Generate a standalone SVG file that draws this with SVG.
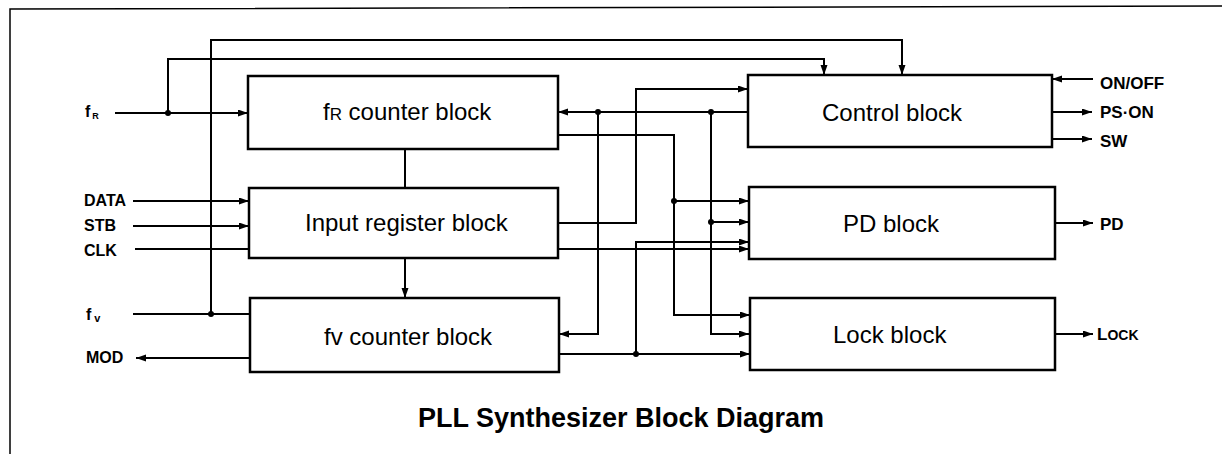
<svg xmlns="http://www.w3.org/2000/svg" width="1222" height="454" viewBox="0 0 1222 454">
<defs>
<marker id="ah" markerWidth="11" markerHeight="8" refX="10" refY="3.5" orient="auto" markerUnits="userSpaceOnUse"><path d="M0,0 L10,3.5 L0,7 z" fill="#000"/></marker>
<style>
.blk{fill:#fff;stroke:#000;stroke-width:2.5}
.bt{font-family:"Liberation Sans",Arial,sans-serif;font-size:24px;fill:#000}
.lb{font-family:"Liberation Sans",Arial,sans-serif;font-weight:bold;font-size:16px;fill:#000}
.rl{font-family:"Liberation Sans",Arial,sans-serif;font-weight:bold;font-size:17px;fill:#000}
.w{fill:none;stroke:#000;stroke-width:2}
.a{marker-end:url(#ah)}
.d{fill:#000}
.frame{fill:none;stroke:#000;stroke-width:1.5}
</style>
</defs>
<rect width="1222" height="454" fill="#fff"/>
<path class="frame" d="M10,454 L10,9 L1222,6"/>
<g id="connectors">
<path class="w a" d="M115,113 H248"/>
<path class="w a" d="M168,113 V59 H824 V75"/>
<path class="w" d="M133,314 H250"/>
<path class="w a" d="M211,314 V40 H902 V75"/>
<path class="w a" d="M133,201 H249"/>
<path class="w a" d="M133,226 H249"/>
<path class="w" d="M135,249 H249"/>
<path class="w a" d="M250,358 H136"/>
<path class="w" d="M405,149 V188"/>
<path class="w a" d="M405,258 V298"/>
<path class="w a" d="M748,112 H558"/>
<path class="w a" d="M598,112 V334 H559"/>
<path class="w a" d="M711,112 V334 H749"/>
<path class="w a" d="M711,222 H749"/>
<path class="w a" d="M558,223 H636 V89 H748"/>
<path class="w a" d="M558,135 H674 V315 H750"/>
<path class="w a" d="M674,201 H749"/>
<path class="w a" d="M559,354 H750"/>
<path class="w a" d="M636,354 V242 H749"/>
<path class="w a" d="M558,249 H749"/>
<path class="w a" d="M1093,79 H1052"/>
<path class="w a" d="M1052,112 H1092"/>
<path class="w a" d="M1052,139 H1092"/>
<path class="w a" d="M1055,223 H1093"/>
<path class="w a" d="M1055,334 H1093"/>
<circle class="d" cx="168" cy="113" r="3"/>
<circle class="d" cx="211" cy="314" r="3"/>
<circle class="d" cx="598" cy="112" r="3"/>
<circle class="d" cx="711" cy="112" r="3"/>
<circle class="d" cx="711" cy="222" r="3"/>
<circle class="d" cx="674" cy="201" r="3"/>
<circle class="d" cx="636" cy="354" r="3"/>
</g>
<g id="fr-counter"><rect class="blk" x="248" y="76" width="310" height="73"/><text class="bt" x="323" y="120">f<tspan font-size="17px">R</tspan> counter block</text></g>
<g id="input-register"><rect class="blk" x="249" y="188" width="309" height="70"/><text class="bt" x="305" y="231">Input register block</text></g>
<g id="fv-counter"><rect class="blk" x="250" y="298" width="309" height="74"/><text class="bt" x="324" y="345">fv counter block</text></g>
<g id="control"><rect class="blk" x="748" y="75" width="304" height="72"/><text class="bt" x="822" y="121">Control block</text></g>
<g id="pd"><rect class="blk" x="749" y="187" width="306" height="72"/><text class="bt" x="843" y="232">PD block</text></g>
<g id="lock"><rect class="blk" x="750" y="298" width="305" height="72"/><text class="bt" x="833" y="343">Lock block</text></g>
<g id="labels">
<text class="lb" x="85" y="117" font-size="19px">f<tspan font-size="9px" dx="2" dy="2">R</tspan></text>
<text class="lb" x="84" y="206">DATA</text>
<text class="lb" x="84" y="231">STB</text>
<text class="lb" x="84" y="256">CLK</text>
<text class="lb" x="86" y="320" font-size="18px">f<tspan font-size="11px" dx="3" dy="2">v</tspan></text>
<text class="lb" x="86" y="363">MOD</text>
<text class="rl" x="1100" y="89">ON/OFF</text>
<text class="rl" x="1100" y="118">PS·ON</text>
<text class="rl" x="1100" y="147">SW</text>
<text class="rl" x="1100" y="230" font-size="15px">PD</text>
<text class="rl" x="1097" y="340">L<tspan font-size="14px">OCK</tspan></text>
</g>
<text id="title" x="621" y="427" text-anchor="middle" font-family="'Liberation Sans',Arial,sans-serif" font-weight="bold" font-size="27px">PLL Synthesizer Block Diagram</text>
</svg>
